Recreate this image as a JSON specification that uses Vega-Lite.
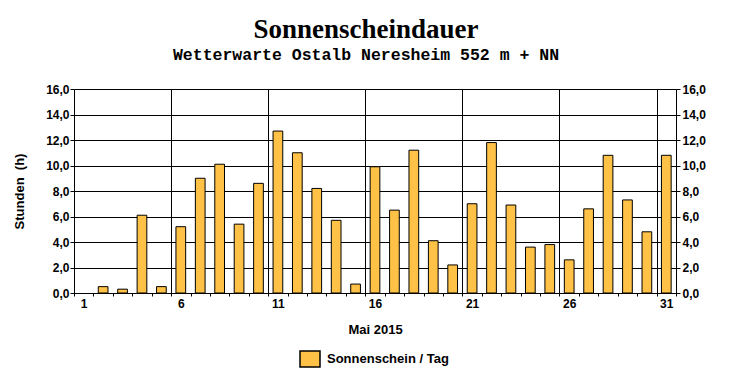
{
  "$schema": "https://vega.github.io/schema/vega-lite/v6.json",
  "width": 602,
  "height": 204,
  "autosize": {"type": "none"},
  "padding": {"top": 89, "left": 74, "right": 56, "bottom": 87},
  "background": "white",
  "title": {
    "text": "Sonnenscheindauer",
    "subtitle": "Wetterwarte Ostalb Neresheim 552 m + NN",
    "font": "Liberation Serif",
    "fontSize": 27,
    "fontWeight": "bold",
    "color": "black",
    "subtitleFont": "Liberation Mono",
    "subtitleFontSize": 16.5,
    "subtitleFontWeight": "bold",
    "subtitleColor": "black",
    "subtitlePadding": 3,
    "anchor": "middle",
    "dx": -9,
    "offset": 19
  },
  "config": {
    "view": {"stroke": "black", "strokeWidth": 1},
    "axis": {
      "labelFont": "Liberation Sans",
      "labelFontWeight": "bold",
      "labelFontSize": 12,
      "labelColor": "black",
      "titleFont": "Liberation Sans",
      "titleFontWeight": "bold",
      "titleFontSize": 13,
      "titleColor": "black",
      "tickColor": "black",
      "domain": false,
      "gridColor": "black",
      "gridOpacity": 1
    }
  },
  "data": {
    "values": [
      {"Tag": 1, "Stunden": null},
      {"Tag": 2, "Stunden": 0.5},
      {"Tag": 3, "Stunden": 0.3},
      {"Tag": 4, "Stunden": 6.1},
      {"Tag": 5, "Stunden": 0.5},
      {"Tag": 6, "Stunden": 5.2},
      {"Tag": 7, "Stunden": 9.0},
      {"Tag": 8, "Stunden": 10.1},
      {"Tag": 9, "Stunden": 5.4},
      {"Tag": 10, "Stunden": 8.6},
      {"Tag": 11, "Stunden": 12.7},
      {"Tag": 12, "Stunden": 11.0},
      {"Tag": 13, "Stunden": 8.2},
      {"Tag": 14, "Stunden": 5.7},
      {"Tag": 15, "Stunden": 0.7},
      {"Tag": 16, "Stunden": 9.9},
      {"Tag": 17, "Stunden": 6.5},
      {"Tag": 18, "Stunden": 11.2},
      {"Tag": 19, "Stunden": 4.1},
      {"Tag": 20, "Stunden": 2.2},
      {"Tag": 21, "Stunden": 7.0},
      {"Tag": 22, "Stunden": 11.8},
      {"Tag": 23, "Stunden": 6.9},
      {"Tag": 24, "Stunden": 3.6},
      {"Tag": 25, "Stunden": 3.8},
      {"Tag": 26, "Stunden": 2.6},
      {"Tag": 27, "Stunden": 6.6},
      {"Tag": 28, "Stunden": 10.8},
      {"Tag": 29, "Stunden": 7.3},
      {"Tag": 30, "Stunden": 4.8},
      {"Tag": 31, "Stunden": 10.8}
    ]
  },
  "layer": [
    {
      "mark": {"type": "bar", "stroke": "black", "strokeWidth": 1, "width": {"band": 0.5}},
      "encoding": {
        "x": {
          "field": "Tag",
          "type": "ordinal",
          "scale": {"domain": [1,2,3,4,5,6,7,8,9,10,11,12,13,14,15,16,17,18,19,20,21,22,23,24,25,26,27,28,29,30,31], "paddingInner": 0, "paddingOuter": 0},
          "axis": {
            "title": "Mai 2015",
            "labelAngle": 0,
            "tickBand": "extent",
            "labelExpr": "(datum.value-1)%5==0 ? datum.label : ''",
            "grid": true,
            "gridOpacity": {"condition": {"test": "datum.value%5==0", "value": 1}, "value": 0},
            "tickSize": 3,
            "labelPadding": 2,
            "titlePadding": 14
          }
        },
        "y": {
          "field": "Stunden",
          "type": "quantitative",
          "scale": {"domain": [0, 16], "nice": false},
          "axis": {
            "orient": "left",
            "title": "Stunden\u00a0 (h)",
            "values": [0, 2, 4, 6, 8, 10, 12, 14, 16],
            "labelExpr": "replace(format(datum.value, '.1f'), '.', ',')",
            "grid": true,
            "tickSize": 4,
            "labelPadding": 1,
            "titlePadding": 19
          }
        },
        "color": {
          "datum": "Sonnenschein / Tag",
          "type": "nominal",
          "scale": {"range": ["#FFC246"]},
          "legend": {
            "title": null,
            "orient": "none",
            "legendX": 225,
            "legendY": 259,
            "padding": 0,
            "symbolType": "M-1,-0.8H1V0.8H-1Z",
            "symbolSize": 400,
            "symbolStrokeColor": "black",
            "symbolStrokeWidth": 1.5,
            "symbolOpacity": 1,
            "labelFont": "Liberation Sans",
            "labelFontWeight": "bold",
            "labelFontSize": 13,
            "labelColor": "black",
            "labelOffset": 6
          }
        }
      }
    },
    {
      "mark": {"type": "bar", "opacity": 0, "width": {"band": 0.5}},
      "encoding": {
        "x": {"field": "Tag", "type": "ordinal"},
        "y": {
          "field": "Stunden",
          "type": "quantitative",
          "axis": {
            "orient": "right",
            "title": null,
            "values": [0, 2, 4, 6, 8, 10, 12, 14, 16],
            "labelExpr": "replace(format(datum.value, '.1f'), '.', ',')",
            "grid": false,
            "tickSize": 4,
            "labelPadding": 2
          }
        }
      }
    }
  ],
  "resolve": {"axis": {"y": "independent"}}
}
